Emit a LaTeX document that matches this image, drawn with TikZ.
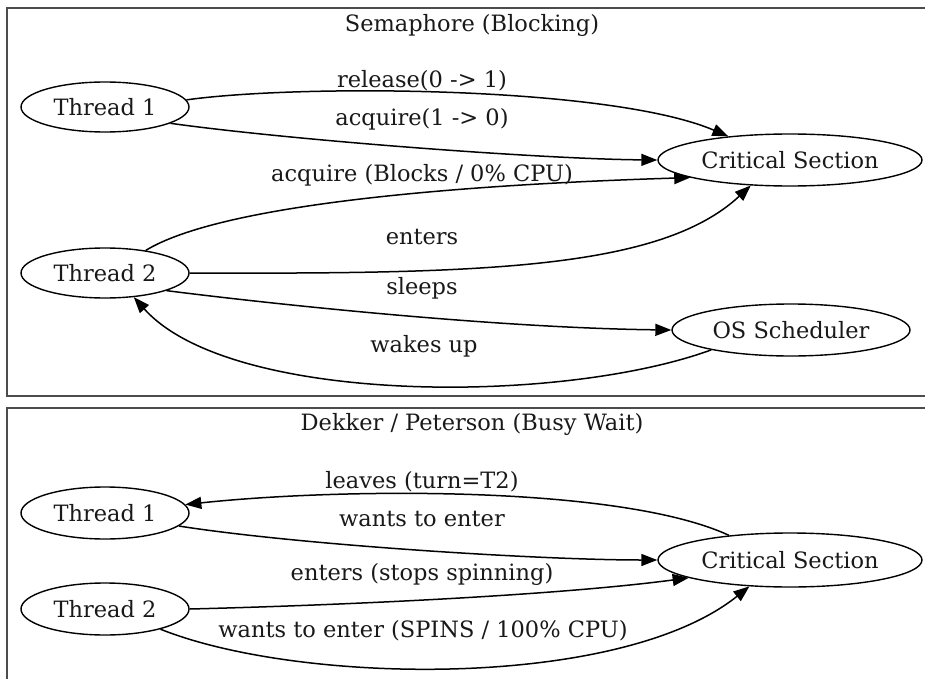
\documentclass[tikz,border=0pt]{standalone}
\usepackage{fontspec}
\setmainfont{DejaVu Serif}
\usetikzlibrary{shapes.geometric,arrows.meta}
\tikzset{
  gnode/.style={ellipse,draw=black,line width=1.4pt,inner sep=0pt,text=black!90,
     font=\fontsize{22.5}{26}\selectfont},
  glabel/.style={inner sep=0pt,text=black!90,font=\fontsize{22.5}{26}\selectfont},
  gedge/.style={draw=black,line width=1.5pt,-{Triangle[length=16pt,width=12pt]}},
  frame/.style={draw=black!70,line width=1.8pt}
}
\begin{document}
\begin{tikzpicture}[x=1pt,y=-1pt]
\useasboundingbox (0,0) rectangle (925,679);
\clip (0,0) rectangle (925,679);
\fill[white] (0,0) rectangle (925,679);
% frames
\draw[frame] (7,8) rectangle (940,396);
\draw[frame] (7,408) rectangle (940,700);
\node[glabel] (title1) at (472,25) {Semaphore (Blocking)};
\node[glabel] (title2) at (472,424) {Dekker / Peterson (Busy Wait)};
% top graph nodes
\node[gnode,minimum width=168pt,minimum height=50pt] (T1) at (105,107) {Thread 1};
\node[gnode,minimum width=168pt,minimum height=50pt] (T2) at (105,273) {Thread 2};
\node[gnode,minimum width=264pt,minimum height=52pt] (CS) at (790,160) {Critical Section};
\node[gnode,minimum width=238pt,minimum height=52pt] (OS) at (791,330) {OS Scheduler};
% top edges
\draw[gedge] (T1.5) .. controls (300,84) and (610,86) .. (CS.159);
\draw[gedge] (T1.-14) .. controls (290,140) and (540,159) .. (CS.west);
\draw[gedge] (T2.29) .. controls (220,205) and (450,185) .. (CS.190);
\draw[gedge] (T2.east) .. controls (480,274) and (660,270) .. (CS.213);
\draw[gedge] (T2.-16) .. controls (280,305) and (500,328) .. (OS.west);
\draw[gedge] (OS.194) .. controls (560,405) and (230,405) .. (T2.-40);
% top labels
\node[glabel] (l1) at (422,81) {release(0 -> 1)};
\node[glabel] (l2) at (422,119) {acquire(1 -> 0)};
\node[glabel] (l3) at (422,175) {acquire (Blocks / 0\% CPU)};
\node[glabel] (l4) at (422,237) {enters};
\node[glabel] (l5) at (422,288) {sleeps};
\node[glabel] (l6) at (424,346) {wakes up};
% bottom graph nodes
\node[gnode,minimum width=168pt,minimum height=52pt] (T1b) at (105,513) {Thread 1};
\node[gnode,minimum width=168pt,minimum height=52pt] (T2b) at (105,609) {Thread 2};
\node[gnode,minimum width=264pt,minimum height=54pt] (CSb) at (790,560) {Critical Section};
% bottom edges
\draw[gedge] (CSb.158) .. controls (620,485) and (340,488) .. (T1b.6);
\draw[gedge] (T1b.-10) .. controls (300,545) and (540,560) .. (CSb.west);
\draw[gedge] (T2b.east) .. controls (350,605) and (560,595) .. (CSb.190);
\draw[gedge] (T2b.-20) .. controls (300,685) and (620,690) .. (CSb.213);
% bottom labels
\node[glabel] (m1) at (422,482) {leaves (turn=T2)};
\node[glabel] (m2) at (422,519) {wants to enter};
\node[glabel] (m3) at (422,574) {enters (stops spinning)};
\node[glabel] (m4) at (423,631) {wants to enter (SPINS / 100\% CPU)};
\end{tikzpicture}
\end{document}
